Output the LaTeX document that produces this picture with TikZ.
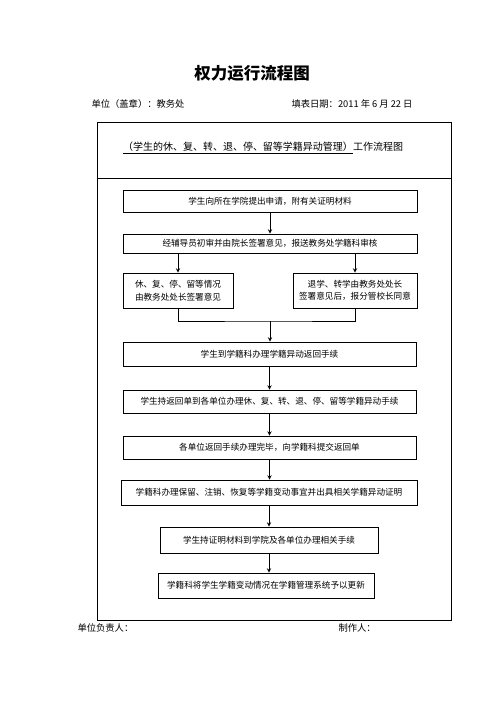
\documentclass[tikz,border=0pt]{standalone}
\usepackage{fontspec}
\newfontfamily\cjk{Noto Sans CJK SC}
\usetikzlibrary{arrows,shapes}
\tikzstyle{step box}=[rectangle,draw=black!100,line width=0.9pt,inner sep=0pt,align=center,font=\cjk\fontsize{8.6}{12.5}\selectfont]
\tikzstyle{flow}=[->, >=stealth, line width=0.9pt]

\begin{document}
\begin{tikzpicture}[x=1pt,y=-1pt]
\useasboundingbox (0,0) rectangle (496,702);
\node[font=\cjk\bfseries\fontsize{16.5}{18}\selectfont] (T) at (252,73) {权力运行流程图};
\node[font=\cjk\fontsize{9.3}{11}\selectfont,anchor=west] (U) at (88,104) {单位（盖章）：教务处};
\node[font=\cjk\fontsize{9.3}{11}\selectfont,anchor=west] (D) at (288,104) {填表日期：2011 年 6 月 22 日};
\draw[line width=0.9pt] (97,122) rectangle (451,620);
\draw[line width=0.9pt] (97,178) -- (451,178);
\node[font=\cjk\fontsize{10}{12}\selectfont] (H) at (263,148) {\underline{（学生的休、复、转、退、停、留等学籍异动管理）}工作流程图};
\node[step box,minimum width=294pt,minimum height=22pt] (A) at (270,201) {学生向所在学院提出申请，附有关证明材料};
\node[step box,minimum width=294pt,minimum height=19pt] (B) at (270,243.5) {经辅导员初审并由院长签署意见，报送教务处学籍科审核};
\node[step box,minimum width=110pt,minimum height=35pt] (L) at (178,290.5) {休、复、停、留等情况\\由教务处处长签署意见};
\node[step box,minimum width=124pt,minimum height=35pt] (R) at (355,290.5) {退学、转学由教务处处长\\签署意见后，报分管校长同意};
\node[step box,minimum width=293pt,minimum height=24pt] (C) at (269.5,354) {学生到学籍科办理学籍异动返回手续};
\node[step box,minimum width=293pt,minimum height=23pt] (E) at (269.5,401.5) {学生持返回单到各单位办理休、复、转、退、停、留等学籍异动手续};
\node[step box,minimum width=293pt,minimum height=23pt] (F) at (269.5,447.5) {各单位返回手续办理完毕，向学籍科提交返回单};
\node[step box,minimum width=296pt,minimum height=25pt] (G) at (269,492.5) {学籍科办理保留、注销、恢复等学籍变动事宜并出具相关学籍异动证明};
\node[step box,minimum width=218pt,minimum height=26pt] (K) at (269,540) {学生持证明材料到学院及各单位办理相关手续};
\node[step box,minimum width=216pt,minimum height=25pt] (N) at (266,585.5) {学籍科将学生学籍变动情况在学籍管理系统予以更新};
\coordinate (M) at (270,321);
\draw[flow] (A.south) -- (A.south |- B.north);
\draw[flow] (B.south -| L) -- (L.north);
\draw[flow] (B.south -| R) -- (R.north);
\draw[line width=0.9pt] (L.south) |- (M) -| (R.south);
\draw[flow] (M) -- (M |- C.north);
\draw[flow] (C.south) -- (C.south |- E.north);
\draw[flow] (E.south) -- (E.south |- F.north);
\draw[flow] (F.south) -- (F.south |- G.north);
\draw[flow] (G.south) -- (G.south |- K.north);
\draw[flow] (K.south -| G) -- (G |- N.north);
\node[font=\cjk\fontsize{9.3}{11}\selectfont,anchor=west] (P) at (74,628) {单位负责人：};
\node[font=\cjk\fontsize{9.3}{11}\selectfont,anchor=west] (Q) at (335,628) {制作人：};
\end{tikzpicture}
\end{document}
